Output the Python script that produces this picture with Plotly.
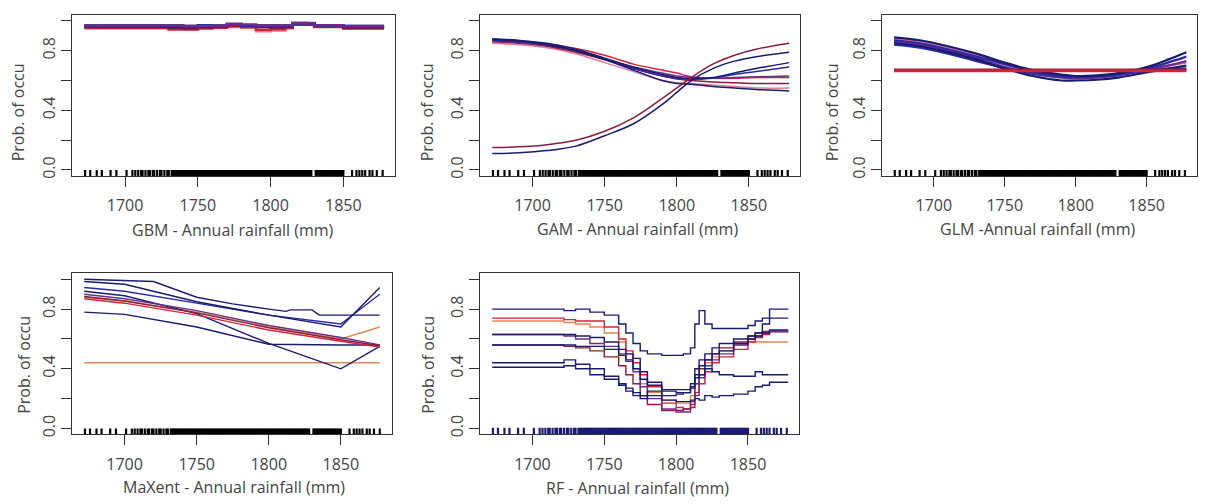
import plotly.graph_objects as go
from plotly.subplots import make_subplots

W, H = 1213, 504
FONT = "Open Sans"

NAVY = "#1b1b6e"
BLUE = "#2a2aa8"
PURPLE = "#6b2d8c"
DARKRED = "#8a1c3c"
RED = "#d0243a"
PINK = "#e47a9a"
ORANGE = "#d98a5a"

# observed rainfall values (rug)
rug_x = [1672.5, 1676, 1680.5, 1684, 1690, 1694, 1701, 1705, 1707, 1709, 1711, 1712,
         1714, 1716, 1717, 1719, 1720, 1722, 1724, 1725, 1727, 1729, 1730,
         1732, 1733, 1734, 1735, 1736, 1737, 1738, 1739, 1740, 1741, 1742, 1743, 1744,
         1745, 1746, 1747, 1748, 1749, 1750, 1751, 1752, 1753, 1754, 1755, 1756, 1757,
         1758, 1759, 1760, 1761, 1762, 1763, 1764, 1765, 1766, 1767, 1768, 1769, 1770,
         1771, 1772, 1773, 1774, 1775, 1776, 1777, 1778, 1779, 1780, 1781, 1782, 1783,
         1784, 1785, 1786, 1787, 1788, 1789, 1790, 1791, 1792, 1793, 1794, 1795, 1796,
         1797, 1798, 1799, 1800, 1801, 1802, 1803, 1804, 1805, 1806, 1807, 1808, 1809,
         1810, 1811, 1812, 1813, 1814, 1815, 1816, 1817, 1818, 1819, 1820, 1821, 1822,
         1823, 1824, 1825, 1826, 1827, 1828,
         1831, 1832, 1833, 1834, 1835, 1836, 1837, 1838, 1839, 1840, 1841, 1842, 1843,
         1844, 1845, 1846, 1847, 1848, 1849, 1850,
         1856, 1859, 1861, 1863, 1865, 1868, 1870, 1873, 1877]

# GBM response curves
gbm_x = [1672, 1700, 1730, 1740, 1750, 1760, 1770, 1780, 1790, 1800, 1810, 1815, 1825, 1830, 1850, 1878]
gbm_1 = [0.97, 0.97, 0.97, 0.965, 0.965, 0.97, 0.98, 0.975, 0.97, 0.97, 0.97, 0.985, 0.985, 0.97, 0.965, 0.965]
gbm_2 = [0.965, 0.965, 0.96, 0.96, 0.96, 0.965, 0.975, 0.97, 0.965, 0.965, 0.965, 0.98, 0.98, 0.97, 0.96, 0.96]
gbm_3 = [0.95, 0.95, 0.94, 0.94, 0.955, 0.96, 0.96, 0.955, 0.93, 0.935, 0.95, 0.98, 0.975, 0.965, 0.95, 0.95]
gbm_4 = [0.96, 0.96, 0.955, 0.95, 0.96, 0.965, 0.97, 0.965, 0.96, 0.955, 0.96, 0.985, 0.98, 0.965, 0.955, 0.955]
gbm_5 = [0.955, 0.955, 0.945, 0.945, 0.95, 0.955, 0.965, 0.96, 0.94, 0.945, 0.955, 0.975, 0.975, 0.96, 0.95, 0.95]
gbm_6 = [0.97, 0.97, 0.965, 0.965, 0.97, 0.97, 0.975, 0.97, 0.965, 0.965, 0.97, 0.98, 0.98, 0.97, 0.965, 0.965]

# GAM response curves
gam_x = [1672, 1690, 1710, 1730, 1750, 1770, 1790, 1800, 1810, 1825, 1840, 1855, 1878]
gam_1 = [0.88, 0.87, 0.85, 0.81, 0.75, 0.69, 0.64, 0.62, 0.61, 0.62, 0.65, 0.68, 0.72]
gam_2 = [0.87, 0.86, 0.84, 0.80, 0.74, 0.68, 0.63, 0.615, 0.61, 0.615, 0.64, 0.66, 0.69]
gam_3 = [0.865, 0.855, 0.835, 0.80, 0.745, 0.69, 0.65, 0.63, 0.62, 0.615, 0.62, 0.625, 0.63]
gam_4 = [0.87, 0.86, 0.845, 0.815, 0.77, 0.71, 0.67, 0.65, 0.625, 0.615, 0.615, 0.62, 0.62]
gam_5 = [0.86, 0.85, 0.83, 0.79, 0.74, 0.68, 0.63, 0.61, 0.60, 0.59, 0.585, 0.58, 0.58]
gam_6 = [0.85, 0.84, 0.82, 0.78, 0.72, 0.66, 0.60, 0.585, 0.58, 0.57, 0.56, 0.55, 0.55]
gam_7 = [0.875, 0.865, 0.84, 0.80, 0.74, 0.67, 0.60, 0.58, 0.575, 0.56, 0.55, 0.54, 0.53]
gam_8 = [0.15, 0.155, 0.17, 0.20, 0.26, 0.35, 0.48, 0.55, 0.62, 0.71, 0.77, 0.81, 0.85]
gam_9 = [0.11, 0.115, 0.13, 0.16, 0.23, 0.31, 0.44, 0.52, 0.60, 0.68, 0.73, 0.76, 0.79]

# GLM response curves
glm_x = [1672, 1690, 1710, 1730, 1750, 1770, 1790, 1800, 1815, 1830, 1850, 1865, 1878]
glm_1 = [0.89, 0.87, 0.83, 0.78, 0.72, 0.67, 0.64, 0.63, 0.635, 0.65, 0.69, 0.74, 0.79]
glm_2 = [0.87, 0.85, 0.81, 0.76, 0.71, 0.66, 0.63, 0.625, 0.63, 0.645, 0.68, 0.72, 0.76]
glm_3 = [0.86, 0.84, 0.80, 0.75, 0.69, 0.645, 0.62, 0.615, 0.62, 0.635, 0.67, 0.70, 0.73]
glm_4 = [0.85, 0.83, 0.79, 0.74, 0.68, 0.63, 0.60, 0.60, 0.605, 0.62, 0.655, 0.68, 0.70]
glm_5 = [0.88, 0.86, 0.82, 0.77, 0.705, 0.655, 0.625, 0.62, 0.625, 0.64, 0.675, 0.70, 0.72]
glm_6 = [0.84, 0.82, 0.78, 0.73, 0.685, 0.65, 0.63, 0.63, 0.63, 0.64, 0.665, 0.68, 0.68]
glm_7 = [0.665] * 13
glm_8 = [0.672] * 13

# MaXent response curves
mx_x = [1672, 1700, 1750, 1800, 1850, 1877]
mx_step_x = [1672, 1690, 1710, 1720, 1750, 1775, 1800, 1812, 1815, 1830, 1835, 1850, 1877]
mx_step = [1.0, 0.995, 0.99, 0.985, 0.88, 0.835, 0.80, 0.785, 0.795, 0.795, 0.76, 0.76, 0.76]
mx_1 = [0.985, 0.967, 0.85, 0.76, 0.68, 0.945]
mx_2 = [0.945, 0.92, 0.84, 0.76, 0.70, 0.90]
mx_3 = [0.88, 0.855, 0.78, 0.68, 0.60, 0.68]
mx_4 = [0.87, 0.84, 0.76, 0.66, 0.585, 0.545]
mx_5 = [0.885, 0.855, 0.775, 0.675, 0.595, 0.555]
mx_6 = [0.78, 0.765, 0.68, 0.565, 0.56, 0.56]
mx_7 = [0.92, 0.89, 0.77, 0.57, 0.40, 0.55]
mx_8 = [0.90, 0.87, 0.79, 0.69, 0.61, 0.56]
mx_9 = [0.44, 0.44, 0.44, 0.44, 0.44, 0.44]

# RF response curves
rf_x = [1672, 1718, 1722, 1730, 1740, 1750, 1760, 1765, 1770, 1775, 1780, 1790, 1800,
        1805, 1810, 1813, 1816, 1820, 1825, 1830, 1840, 1850, 1855, 1860, 1865, 1878]
rf_1 = [0.80, 0.80, 0.79, 0.80, 0.78, 0.76, 0.70, 0.64, 0.57, 0.52, 0.50, 0.49, 0.49,
        0.50, 0.54, 0.70, 0.79, 0.70, 0.67, 0.67, 0.67, 0.69, 0.72, 0.74, 0.80, 0.80]
rf_2 = [0.74, 0.74, 0.73, 0.72, 0.72, 0.68, 0.60, 0.52, 0.44, 0.36, 0.28, 0.17, 0.14,
        0.13, 0.16, 0.24, 0.30, 0.38, 0.44, 0.48, 0.53, 0.58, 0.61, 0.63, 0.65, 0.65]
rf_3 = [0.72, 0.72, 0.71, 0.70, 0.68, 0.64, 0.58, 0.50, 0.40, 0.30, 0.24, 0.19, 0.17,
        0.17, 0.22, 0.30, 0.36, 0.44, 0.48, 0.52, 0.56, 0.58, 0.58, 0.58, 0.58, 0.58]
rf_4 = [0.63, 0.63, 0.63, 0.62, 0.61, 0.58, 0.53, 0.50, 0.47, 0.38, 0.31, 0.25, 0.24,
        0.24, 0.27, 0.36, 0.42, 0.46, 0.50, 0.52, 0.57, 0.60, 0.62, 0.64, 0.66, 0.66]
rf_5 = [0.56, 0.56, 0.56, 0.55, 0.55, 0.53, 0.49, 0.46, 0.40, 0.33, 0.29, 0.26, 0.26,
        0.26, 0.30, 0.40, 0.46, 0.50, 0.54, 0.57, 0.60, 0.62, 0.64, 0.70, 0.74, 0.74]
rf_6 = [0.44, 0.44, 0.46, 0.43, 0.40, 0.35, 0.30, 0.27, 0.24, 0.22, 0.22, 0.22, 0.23,
        0.24, 0.28, 0.34, 0.36, 0.40, 0.38, 0.36, 0.35, 0.35, 0.38, 0.36, 0.36, 0.36]
rf_7 = [0.41, 0.41, 0.42, 0.40, 0.36, 0.33, 0.29, 0.25, 0.22, 0.20, 0.25, 0.19, 0.18,
        0.18, 0.19, 0.20, 0.19, 0.22, 0.21, 0.22, 0.23, 0.25, 0.28, 0.29, 0.31, 0.31]
rf_8 = [0.63, 0.63, 0.62, 0.60, 0.57, 0.55, 0.50, 0.45, 0.38, 0.28, 0.20, 0.13, 0.11,
        0.11, 0.14, 0.22, 0.34, 0.42, 0.46, 0.50, 0.56, 0.60, 0.62, 0.64, 0.65, 0.65]
rf_9 = [0.56, 0.56, 0.55, 0.54, 0.52, 0.48, 0.42, 0.36, 0.30, 0.22, 0.16, 0.12, 0.12,
        0.13, 0.18, 0.30, 0.40, 0.46, 0.50, 0.54, 0.58, 0.62, 0.64, 0.65, 0.65, 0.65]

y_ticks = [0.0, 0.2, 0.4, 0.6, 0.8, 1.0]
y_ticktext = ["0.0", "", "0.4", "", "0.8", ""]
x_ticks = [1700, 1750, 1800, 1850]

# panel boxes in pixels: (left, right, top, bottom)
boxes = {
    (1, 1): (72, 395, 15, 177),
    (1, 2): (480, 800, 15, 177),
    (1, 3): (882, 1197, 15, 177),
    (2, 1): (72, 392, 275, 437),
    (2, 2): (480, 799, 275, 437),
}

fig = make_subplots(rows=2, cols=3,
                    specs=[[{}, {}, {}], [{}, {}, None]])


def add_lines(row, col, x, series, colors, shape, width=1.4):
    for ys, c in zip(series, colors):
        fig.add_trace(go.Scatter(x=x, y=ys, mode="lines", line=dict(color=c, width=width, shape=shape),
                                 showlegend=False, hoverinfo="skip"), row=row, col=col)


def add_rug(row, col, color="black", top=0.0):
    # one short vertical segment per observation, from the box bottom up to ~0
    xs, ys = [], []
    for v in rug_x:
        xs += [v, v, None]
        ys += [-0.04, top, None]
    fig.add_trace(go.Scatter(x=xs, y=ys, mode="lines", line=dict(color=color, width=2.2),
                             showlegend=False, hoverinfo="skip"), row=row, col=col)


add_lines(1, 1, gbm_x, [gbm_3, gbm_5, gbm_4, gbm_2, gbm_6, gbm_1],
          [PINK, RED, DARKRED, NAVY, BLUE, PURPLE], "hv", 2.6)
add_lines(1, 2, gam_x, [gam_6, gam_4, gam_5, gam_3, gam_2, gam_1, gam_7, gam_8, gam_9],
          [PINK, RED, DARKRED, PURPLE, BLUE, NAVY, NAVY, DARKRED, NAVY], "spline", 1.5)
add_lines(1, 3, glm_x, [glm_5, glm_3, glm_6, glm_2, glm_4, glm_1],
          [PINK, PURPLE, BLUE, BLUE, NAVY, NAVY], "spline", 2.2)
add_lines(1, 3, glm_x, [glm_8, glm_7], [DARKRED, RED], "linear", 2.6)
add_lines(2, 1, mx_step_x, [mx_step], [NAVY], "linear")
add_lines(2, 1, mx_x, [mx_9, mx_3, mx_6, mx_7, mx_2, mx_1, mx_8, mx_5, mx_4],
          [ORANGE, ORANGE, NAVY, NAVY, BLUE, NAVY, PURPLE, DARKRED, RED], "linear")
add_lines(2, 2, rf_x, [rf_3, rf_2, rf_9, rf_8, rf_7, rf_6, rf_5, rf_4, rf_1],
          [ORANGE, RED, DARKRED, PURPLE, NAVY, NAVY, NAVY, NAVY, NAVY], "hv")

for (r, c) in boxes:
    if (r, c) == (2, 2):
        add_rug(r, c, NAVY, 0.005)
    else:
        add_rug(r, c)

axis_common = dict(showline=True, mirror=True, linecolor="#333333", linewidth=1.2,
                   ticks="outside", ticklen=10, tickcolor="#333333", showgrid=False,
                   zeroline=False, tickfont=dict(family=FONT, size=16, color="#444444"))

for (r, c), (l, rgt, t, b) in boxes.items():
    fig.update_xaxes(domain=[l / W, rgt / W], range=[1663.5, 1885.5], tickvals=x_ticks,
                     ticklabelstandoff=5, row=r, col=c, **axis_common)
    fig.update_yaxes(domain=[1 - b / H, 1 - t / H], range=[-0.04, 1.04], tickvals=y_ticks,
                     ticktext=y_ticktext, tickangle=-90, row=r, col=c, **axis_common)

# axis titles: (text, x px, y px)
x_titles = [("GBM - Annual rainfall (mm)", 233, 231),
            ("GAM - Annual rainfall (mm)", 637, 230),
            ("GLM -Annual rainfall (mm)", 1037, 230),
            ("MaXent - Annual rainfall (mm)", 234, 490),
            ("RF - Annual rainfall (mm)", 637, 491)]
y_titles = [(18, 113), (427, 113), (832, 113), (24, 367), (428, 367)]

for txt, px, py in x_titles:
    fig.add_annotation(text=txt, x=px / W, y=1 - py / H, xref="paper", yref="paper",
                       showarrow=False, xanchor="center", yanchor="middle",
                       font=dict(family=FONT, size=16, color="#444444"))
for px, py in y_titles:
    fig.add_annotation(text="Prob. of occu", x=px / W, y=1 - py / H, xref="paper", yref="paper",
                       showarrow=False, xanchor="center", yanchor="middle", textangle=-90,
                       font=dict(family=FONT, size=16, color="#444444"))

fig.update_layout(width=W, height=H, margin=dict(l=0, r=0, t=0, b=0),
                  plot_bgcolor="white", paper_bgcolor="white")

fig.write_html("out.html", config={"displayModeBar": False},
               post_script="document.body.style.margin='0';")
